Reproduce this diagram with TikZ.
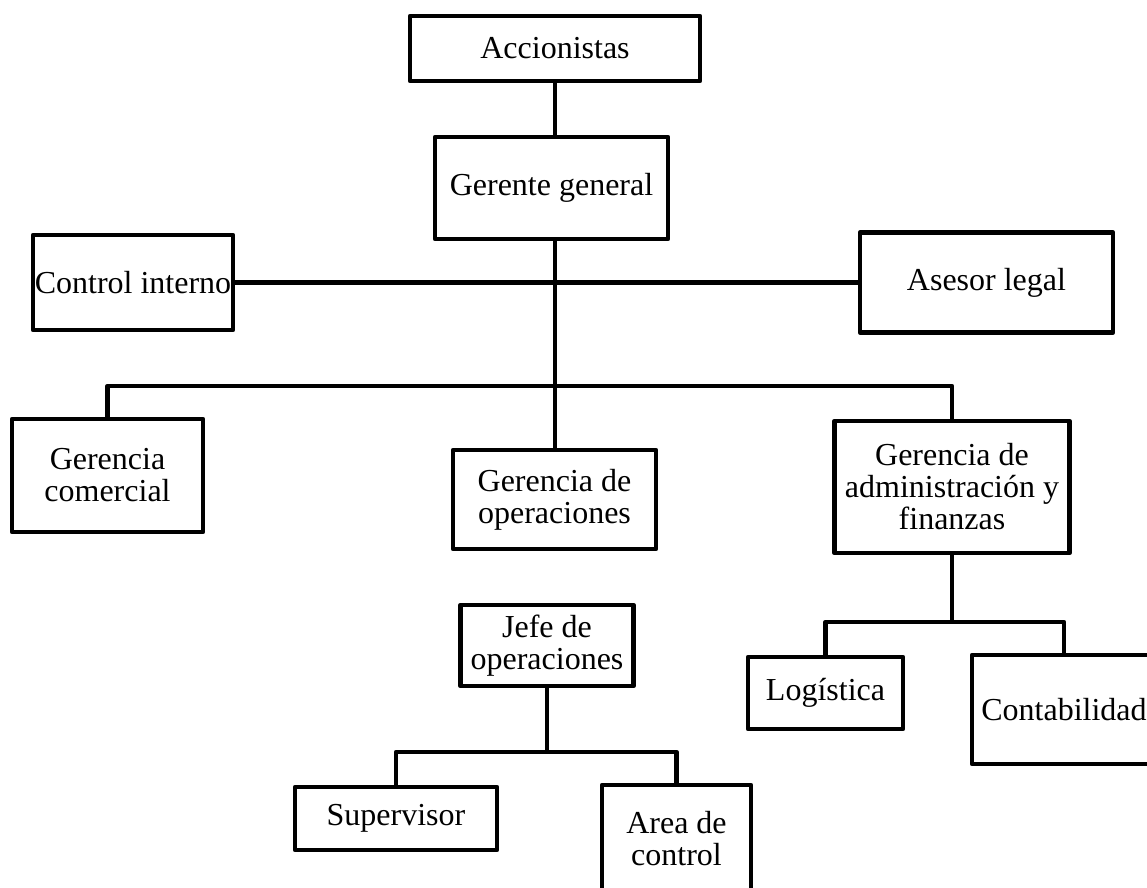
\documentclass[tikz,border=0pt]{standalone}
\usepackage{fontspec}
\setmainfont{Liberation Serif}

\begin{document}
\begin{tikzpicture}[x=1pt, y=-1pt, line width=4.5pt, line join=round,
  box/.style={draw, rectangle, align=center, inner sep=0pt,
    font=\fontsize{32}{32}\selectfont}]
  \useasboundingbox (0,0) rectangle (1147,887);
  % top of the chart
  \node [box, minimum width=290pt, minimum height=65pt] (acc) at (555,48.5) {Accionistas};
  \node [box, minimum width=233pt, minimum height=102pt] (ger) at (551.5,188) {Gerente general};
  \node [box, minimum width=200pt, minimum height=95pt] (ctrl) at (133,282.5) {Control interno};
  \node [box, minimum width=253pt, minimum height=100pt] (ases) at (986.5,282.5) {Asesor legal};
  % gerencias
  \node [box, minimum width=191pt, minimum height=113pt] (com) at (107.5,475.5) {Gerencia\\comercial};
  \node [box, minimum width=203pt, minimum height=99pt] (ops) at (554.5,499.5) {Gerencia de\\operaciones};
  \node [box, minimum width=235pt, minimum height=132pt] (adm) at (952,487) {Gerencia de\\administración y\\finanzas};
  % lower levels
  \node [box, minimum width=173pt, minimum height=81pt] (jefe) at (547,645.5) {Jefe de\\operaciones};
  \node [box, minimum width=155pt, minimum height=72pt] (log) at (825.5,693) {Logística};
  \node [box, minimum width=184pt, minimum height=109pt] (cont) at (1064,709.5) {Contabilidad};
  \node [box, minimum width=202pt, minimum height=63pt] (sup) at (396,818.5) {Supervisor};
  \node [box, minimum width=149pt, minimum height=108pt] (area) at (676.5,839) {Area de\\control};

  \coordinate (bus) at (555,386);
  \coordinate (admbus) at (952,622);
  \coordinate (jefebus) at (547,752);

  \draw (acc.south) -- (acc.south |- ger.north);
  \draw (acc.south |- ger.south) -- (acc.south |- ops.north);
  \draw (ctrl.east) -- (ases.west);
  \draw (com.north) |- (bus) -| (adm.north);
  \draw (adm.south) -- (admbus);
  \draw (log.north) |- (admbus) -| (cont.north);
  \draw (jefe.south) -- (jefebus);
  \draw (sup.north) |- (jefebus) -| (area.north);
\end{tikzpicture}
\end{document}
